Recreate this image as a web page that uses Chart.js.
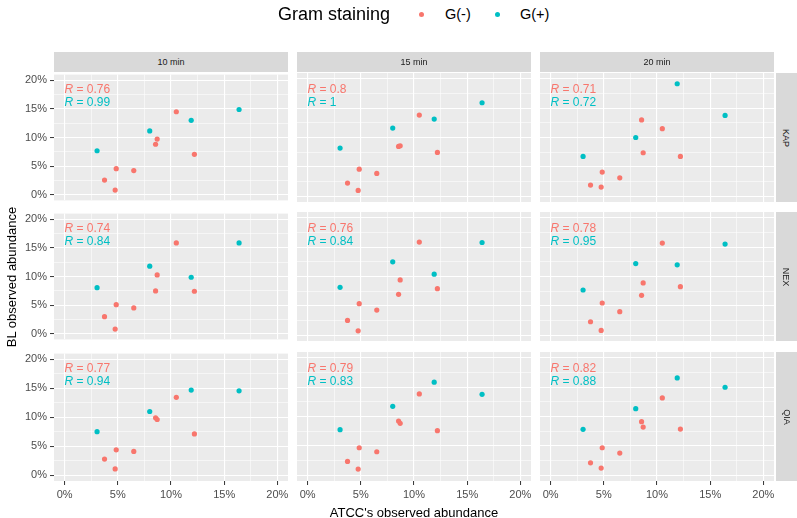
<!DOCTYPE html>
<html>
<head>
<meta charset="utf-8">
<script src="https://cdn.jsdelivr.net/npm/chart.js@4"></script>
<style>
  body { margin: 0; background: #fff; font-family: "Liberation Sans", Arial, sans-serif; }
  #fig { position: relative; width: 797px; height: 518px; overflow: hidden; }
  #fig canvas { position: absolute; }
  .txt { position: absolute; white-space: nowrap; }
  .strip { position: absolute; background: #d9d9d9; color: #1a1a1a; font-size: 9px;
           display: flex; align-items: center; justify-content: center; }
  .strip.side span { transform: rotate(90deg); white-space: nowrap; }
  .rlab { position: absolute; font-size: 12px; line-height: 14px; white-space: nowrap; }
  .dot { position: absolute; width: 5px; height: 5px; border-radius: 50%; }
</style>
</head>
<body>
<div id="fig"></div>
<script>
// ---- data (values in %) ----
const METHODS = ["KAP", "NEX", "QIA"];
const TIMES   = ["10 min", "15 min", "20 min"];

// ATCC abundance, shared by every panel
const NEG_X = [3.75, 4.75, 4.85, 6.5, 8.55, 8.7, 10.5, 12.2];
const POS_X = [3.05, 8.0, 11.9, 16.4];

// BL abundance, one row per time (10, 15, 20 min)
const KAP_NEG = [
  [2.56, 0.8, 4.55, 4.21, 8.82, 9.73, 14.5, 7.05],
  [2.22, 0.97, 4.6, 3.87, 8.48, 8.59, 13.82, 7.45],
  [1.88, 1.54, 4.1, 3.13, 13.0, 7.4, 11.5, 6.77],
];
const KAP_POS = [
  [7.68, 11.15, 13.0, 14.9],
  [8.19, 11.6, 13.14, 15.93],
  [6.77, 10.0, 19.17, 13.77],
];
const NEX_NEG = [
  [2.97, 0.8, 5.08, 4.5, 7.48, 10.27, 15.87, 7.42],
  [2.51, 0.74, 5.37, 4.28, 6.96, 9.42, 15.87, 7.93],
  [2.28, 0.8, 5.48, 4.0, 6.79, 8.9, 15.7, 8.27],
];
const NEX_POS = [
  [8.05, 11.8, 9.87, 15.87],
  [8.16, 12.5, 10.39, 15.8],
  [7.7, 12.2, 11.99, 15.53],
];
const QIA_NEG = [
  [2.79, 1.08, 4.39, 4.1, 9.91, 9.62, 13.45, 7.13],
  [2.34, 1.03, 4.67, 3.99, 9.23, 8.83, 13.85, 7.58],
  [2.1, 1.2, 4.67, 3.76, 9.12, 8.2, 13.16, 7.86],
];
const QIA_POS = [
  [7.52, 11.0, 14.7, 14.58],
  [7.75, 11.74, 15.85, 13.79],
  [7.81, 11.33, 16.58, 14.99],
];

// correlation labels per method row, per time column
const R_NEG = [["0.76", "0.8", "0.71"], ["0.74", "0.76", "0.78"], ["0.77", "0.79", "0.82"]];
const R_POS = [["0.99", "1", "0.72"], ["0.84", "0.84", "0.95"], ["0.94", "0.83", "0.88"]];

const TICKS = [0, 2.5, 5, 7.5, 10, 12.5, 15, 17.5, 20];

// ---- look ----
const RED  = "#F8766D";
const TEAL = "#00BFC4";
const FONT = '"Liberation Sans", Arial, sans-serif';

const COL_LEFT = [54, 297, 540];
const ROW_TOP  = [73, 212, 352];
const PANEL_W  = 234;
const PANEL_H  = 129;

Chart.defaults.font.family = FONT;

const negRows = [KAP_NEG, NEX_NEG, QIA_NEG];
const posRows = [KAP_POS, NEX_POS, QIA_POS];

const fig = document.getElementById("fig");

function addDiv(cls, css, html) {
  const d = document.createElement("div");
  d.className = cls;
  Object.assign(d.style, css);
  d.innerHTML = html;
  fig.appendChild(d);
  return d;
}

const panelBg = {
  id: "panelBg",
  beforeDraw(chart) {
    const { ctx, chartArea: a } = chart;
    ctx.save();
    ctx.fillStyle = "#EBEBEB";
    ctx.fillRect(a.left, a.top, a.right - a.left, a.bottom - a.top);
    ctx.restore();
  },
};

const isMajor = (v) => v % 5 === 0;

function axis(showTicks, fitSize, horizontal) {
  return {
    type: "linear",
    min: -1,
    max: 21,
    afterBuildTicks: (s) => { s.ticks = TICKS.map((v) => ({ value: v })); },
    afterFit: (s) => { if (horizontal) s.height = fitSize; else s.width = fitSize; },
    border: { display: false },
    grid: {
      color: "#FFFFFF",
      lineWidth: (c) => (c.tick && isMajor(c.tick.value) ? 1.1 : 0.55),
      drawTicks: showTicks,
      tickLength: 4,
      tickWidth: 1,
      tickColor: (c) => (c.tick && isMajor(c.tick.value) ? "#333333" : "rgba(0,0,0,0)"),
    },
    ticks: {
      display: showTicks,
      autoSkip: false,
      maxRotation: 0,
      padding: 3,
      color: "#4D4D4D",
      font: { size: 11 },
      callback: (v) => (isMajor(v) ? v + "%" : ""),
    },
  };
}

for (let r = 0; r < 3; r++) {
  for (let c = 0; c < 3; c++) {
    const axisW = c === 0 ? 54 : 0;
    const axisH = r === 2 ? 28 : 0;
    const padL = c === 0 ? 0 : 10;
    const padR = 14, padT = 8;
    const padB = r === 2 ? 0 : 8;

    const cv = document.createElement("canvas");
    cv.width = padL + axisW + PANEL_W + padR;
    cv.height = padT + PANEL_H + axisH + padB;
    cv.style.left = (COL_LEFT[c] - axisW - padL) + "px";
    cv.style.top = (ROW_TOP[r] - padT) + "px";
    fig.appendChild(cv);

    new Chart(cv, {
      type: "scatter",
      data: {
        datasets: [
          {
            label: "G(-)",
            data: NEG_X.map((x, i) => ({ x, y: negRows[r][c][i] })),
            backgroundColor: RED,
            borderColor: RED,
            borderWidth: 0,
            pointRadius: 2.6,
          },
          {
            label: "G(+)",
            data: POS_X.map((x, i) => ({ x, y: posRows[r][c][i] })),
            backgroundColor: TEAL,
            borderColor: TEAL,
            borderWidth: 0,
            pointRadius: 2.6,
          },
        ],
      },
      options: {
        responsive: false,
        animation: false,
        events: [],
        layout: { padding: { left: padL, right: padR, top: padT, bottom: padB } },
        plugins: { legend: { display: false }, tooltip: { enabled: false } },
        scales: {
          x: axis(r === 2, axisH, true),
          y: axis(c === 0, axisW, false),
        },
      },
      plugins: [panelBg],
    });

    // R labels
    const lx = COL_LEFT[c] + 10.5;
    addDiv("rlab", { left: lx + "px", top: (ROW_TOP[r] + 8.7) + "px", color: RED },
      "<i>R</i> = " + R_NEG[r][c]);
    addDiv("rlab", { left: lx + "px", top: (ROW_TOP[r] + 21.7) + "px", color: TEAL },
      "<i>R</i> = " + R_POS[r][c]);
  }
}

// facet strips
TIMES.forEach((t, c) => {
  addDiv("strip", { left: COL_LEFT[c] + "px", top: "52px", width: PANEL_W + "px", height: "20px" }, t);
});
METHODS.forEach((m, r) => {
  addDiv("strip side", { left: "776px", top: ROW_TOP[r] + "px", width: "21px", height: PANEL_H + "px" },
    "<span>" + m + "</span>");
});

// axis titles
addDiv("txt", { left: "214px", top: "505px", width: "400px", textAlign: "center",
  fontSize: "13px", lineHeight: "16px", color: "#000" }, "ATCC's observed abundance");
addDiv("txt", { left: "-138px", top: "269px", width: "300px", textAlign: "center",
  fontSize: "13px", lineHeight: "16px", color: "#000", transform: "rotate(-90deg)" }, "BL observed abundance");

// legend
addDiv("txt", { left: "278px", top: "3px", fontSize: "18px", lineHeight: "22px", color: "#000" }, "Gram staining");
addDiv("dot", { left: "418.5px", top: "11.5px", background: RED }, "");
addDiv("txt", { left: "445px", top: "5px", fontSize: "14.5px", lineHeight: "18px", color: "#000" }, "G(-)");
addDiv("dot", { left: "494.5px", top: "11.5px", background: TEAL }, "");
addDiv("txt", { left: "520px", top: "5px", fontSize: "14.5px", lineHeight: "18px", color: "#000" }, "G(+)");
</script>
</body>
</html>
